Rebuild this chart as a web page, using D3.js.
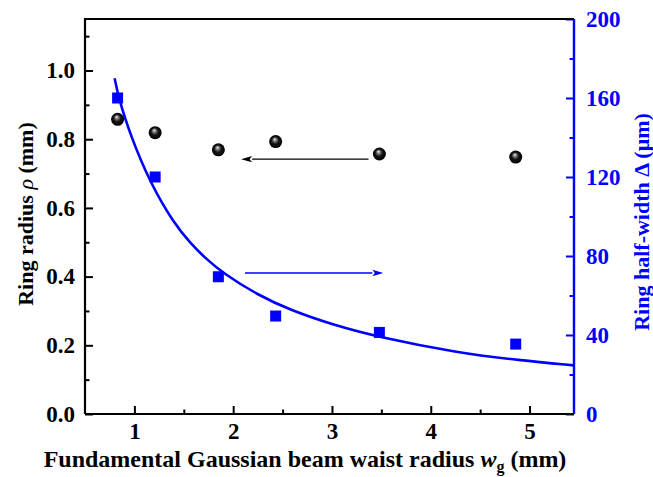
<!DOCTYPE html>
<html>
<head>
<meta charset="utf-8">
<script src="https://cdn.jsdelivr.net/npm/d3@7"></script>
<style>
  body { margin: 0; background: #fff; }
  svg text { font-family: "Liberation Serif", "Times New Roman", serif; font-weight: bold; }
</style>
</head>
<body>
<div id="chart"></div>
<script>
// waist radius (mm) of each measurement
var waist = [0.83, 1.21, 1.85, 2.43, 3.48, 4.86];
// ring radius rho (mm), left axis
var ringRadius = [0.858, 0.819, 0.769, 0.793, 0.757, 0.748];
// ring half-width delta (um), right axis
var halfWidth = [160, 120, 69.5, 49.6, 41.3, 35.4];
// fitted curve
var fitX = [0.80, 0.84, 0.96, 1.16, 1.40, 1.57, 1.72, 1.90, 2.25, 2.58, 3.00, 3.48, 4.27, 4.90, 5.45];
var fitY = [170, 160, 141, 117, 96.5, 86.3, 78.8, 71.2, 60.2, 52.6, 45.3, 38.8, 31.0, 27.2, 24.6];

var xTicks = [1, 2, 3, 4, 5];
var leftTicks = [0, 0.2, 0.4, 0.6, 0.8, 1.0];
var rightTicks = [0, 40, 80, 120, 160, 200];

var W = 653, H = 477;
var margin = { top: 19, right: 79, bottom: 63, left: 85 };
var width = W - margin.left - margin.right,
    height = H - margin.top - margin.bottom;
var blue = "#0000ff";

var svg = d3.select("#chart").append("svg")
    .attr("width", W)
    .attr("height", H);

var defs = svg.append("defs");
var grad = defs.append("radialGradient")
    .attr("id", "ball")
    .attr("cx", "0.5").attr("cy", "0.5").attr("r", "0.5")
    .attr("fx", "0.42").attr("fy", "0.3");
grad.append("stop").attr("offset", "0%").attr("stop-color", "#f4f4f4");
grad.append("stop").attr("offset", "22%").attr("stop-color", "#8a8a8a");
grad.append("stop").attr("offset", "55%").attr("stop-color", "#151515");
grad.append("stop").attr("offset", "100%").attr("stop-color", "#000");

var g = svg.append("g")
    .attr("transform", "translate(" + margin.left + "," + margin.top + ")");

// scales
var x = d3.scaleLinear().domain([0.5, 5.45]).range([0, width]);
var yL = d3.scaleLinear().domain([0, 1.15]).range([height, 0]);
var yR = d3.scaleLinear().domain([0, 200]).range([height, 0]);

// axes (ticks pointing inward)
function styleAxis(sel, color) {
    sel.attr("font-family", null);
    sel.select(".domain").remove();
    sel.selectAll(".tick line").attr("stroke", color).attr("stroke-width", 2);
    sel.selectAll(".tick text").attr("fill", color).style("font-size", "23px");
}

var gx = g.append("g")
    .attr("transform", "translate(0," + height + ")")
    .call(d3.axisBottom(x).tickValues(xTicks).tickFormat(d3.format("d"))
        .tickSizeInner(-8).tickSizeOuter(0).tickPadding(9));
styleAxis(gx, "#000");
g.append("g")
    .attr("transform", "translate(0," + height + ")")
    .call(d3.axisBottom(x).tickValues(d3.range(1.5, 5.5, 1)).tickFormat("")
        .tickSizeInner(-4.5).tickSizeOuter(0))
    .call(styleAxis, "#000");

var gl = g.append("g")
    .call(d3.axisLeft(yL).tickValues(leftTicks).tickFormat(d3.format(".1f"))
        .tickSizeInner(-8).tickSizeOuter(0).tickPadding(10));
styleAxis(gl, "#000");
g.append("g")
    .call(d3.axisLeft(yL).tickValues([0.1, 0.3, 0.5, 0.7, 0.9, 1.1]).tickFormat("")
        .tickSizeInner(-4.5).tickSizeOuter(0))
    .call(styleAxis, "#000");

var gr = g.append("g")
    .attr("transform", "translate(" + width + ",0)")
    .call(d3.axisRight(yR).tickValues(rightTicks).tickFormat(d3.format("d"))
        .tickSizeInner(-8).tickSizeOuter(0).tickPadding(12));
styleAxis(gr, blue);
g.append("g")
    .attr("transform", "translate(" + width + ",0)")
    .call(d3.axisRight(yR).tickValues([20, 60, 100, 140, 180]).tickFormat("")
        .tickSizeInner(-4.5).tickSizeOuter(0))
    .call(styleAxis, blue);

// frame lines
g.append("path")
    .attr("d", "M0," + height + "V0H" + width)
    .attr("fill", "none").attr("stroke", "#000").attr("stroke-width", 2.2);
g.append("line")
    .attr("x1", 0).attr("x2", width)
    .attr("y1", height).attr("y2", height)
    .attr("stroke", "#000").attr("stroke-width", 2.2);
g.append("line")
    .attr("x1", width).attr("x2", width)
    .attr("y1", 0).attr("y2", height)
    .attr("stroke", blue).attr("stroke-width", 2.4);

// fitted curve
var fit = fitX.map(function(d, i) { return [d, fitY[i]]; });
g.append("path")
    .datum(fit)
    .attr("fill", "none")
    .attr("stroke", blue)
    .attr("stroke-width", 2.6)
    .attr("d", d3.line()
        .x(function(d) { return x(d[0]); })
        .y(function(d) { return yR(d[1]); })
        .curve(d3.curveBasis));

// squares (half-width)
g.selectAll("rect.hw")
    .data(waist)
    .enter().append("rect")
    .attr("class", "hw")
    .attr("x", function(d) { return x(d) - 5.5; })
    .attr("y", function(d, i) { return yR(halfWidth[i]) - 5.5; })
    .attr("width", 11).attr("height", 11)
    .attr("fill", blue);

// spheres (ring radius)
g.selectAll("circle.rr")
    .data(waist)
    .enter().append("circle")
    .attr("class", "rr")
    .attr("cx", function(d) { return x(d); })
    .attr("cy", function(d, i) { return yL(ringRadius[i]); })
    .attr("r", 6.5)
    .attr("fill", "url(#ball)");

// arrows pointing to the axis of each series
function arrow(x1, x2, yPx, color) {
    var dir = x2 > x1 ? 1 : -1;
    var tip = x(x2), base = tip - dir * 11;
    g.append("line")
        .attr("x1", x(x1)).attr("x2", base)
        .attr("y1", yPx).attr("y2", yPx)
        .attr("stroke", color).attr("stroke-width", 1.3);
    g.append("path")
        .attr("d", "M" + tip + "," + yPx + "L" + (base) + "," + (yPx - 3.2) +
              "L" + (base + dir * 2.5) + "," + yPx + "L" + base + "," + (yPx + 3.2) + "Z")
        .attr("fill", color);
}
arrow(3.37, 2.08, yL(0.742), "#000");
arrow(2.12, 3.52, yR(71.4), blue);

// axis titles
var xt = svg.append("text")
    .attr("x", 305).attr("y", 467)
    .attr("text-anchor", "middle")
    .style("font-size", "24px");
xt.append("tspan").text("Fundamental Gaussian beam waist radius ");
xt.append("tspan").style("font-style", "italic").text("w");
xt.append("tspan").attr("dy", 5).style("font-size", "16px").text("g");
xt.append("tspan").attr("dy", -5).text(" (mm)");

var yt = svg.append("text")
    .attr("transform", "translate(33,214) rotate(-90)")
    .attr("text-anchor", "middle")
    .style("font-size", "22px");
yt.append("tspan").text("Ring radius ");
yt.append("tspan").style("font-style", "italic").style("font-weight", "normal").text("\u03c1");
yt.append("tspan").text(" (mm)");

svg.append("text")
    .attr("transform", "translate(649,222) rotate(-90)")
    .attr("text-anchor", "middle")
    .attr("fill", blue)
    .style("font-size", "22px")
    .text("Ring half-width \u0394 (\u03bcm)");
</script>
</body>
</html>
